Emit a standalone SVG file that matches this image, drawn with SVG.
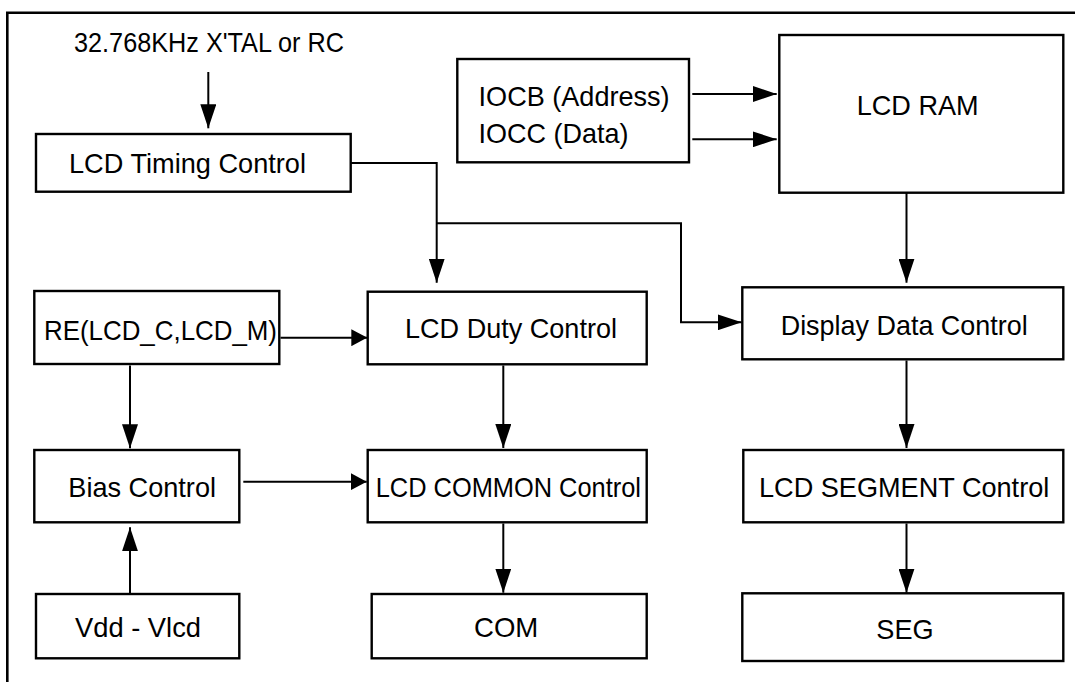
<svg xmlns="http://www.w3.org/2000/svg" width="1075" height="682" viewBox="0 0 1075 682">
<style>
.box{fill:#fff;stroke:#000;stroke-width:2.4}
.t{font-family:"Liberation Sans",Arial,sans-serif;font-size:28px;fill:#000}
.c{fill:none;stroke:#000;stroke-width:2}
.bd{fill:none;stroke:#000;stroke-width:2.6}
</style>
<defs>
<marker id="L" markerUnits="userSpaceOnUse" markerWidth="24" markerHeight="16" viewBox="0 0 24 16" refX="24" refY="8" orient="auto"><path d="M0,0 L24,8 L0,16 Z" fill="#000"/></marker>
<marker id="S" markerUnits="userSpaceOnUse" markerWidth="16" markerHeight="17" viewBox="0 0 16 17" refX="16" refY="8.5" orient="auto"><path d="M0,0 L16,8.5 L0,17 Z" fill="#000"/></marker>
</defs>
<rect width="1075" height="682" fill="#fff"/>
<g id="border">
<polyline class="bd" points="7.3,682 7.3,12.7 1075,12.7"/>
</g>
<g id="source"><text class="t" x="74" y="51.7" textLength="270" lengthAdjust="spacingAndGlyphs">32.768KHz X'TAL or RC</text></g>
<g id="timing"><rect class="box" x="36" y="134" width="314.7" height="57.7"/><text class="t" x="69" y="172.7" textLength="237" lengthAdjust="spacingAndGlyphs">LCD Timing Control</text></g>
<g id="iocb"><rect class="box" x="457.3" y="59" width="231.7" height="103.3"/><text class="t" x="478.6" y="106" textLength="191" lengthAdjust="spacingAndGlyphs">IOCB (Address)</text><text class="t" x="478.6" y="143.3" textLength="150" lengthAdjust="spacingAndGlyphs">IOCC (Data)</text></g>
<g id="lcdram"><rect class="box" x="779.3" y="35" width="284" height="157.7"/><text class="t" x="856.7" y="115" textLength="122" lengthAdjust="spacingAndGlyphs">LCD RAM</text></g>
<g id="re"><rect class="box" x="34.3" y="291" width="245" height="73"/><text class="t" x="44" y="340" textLength="233" lengthAdjust="spacingAndGlyphs">RE(LCD_C,LCD_M)</text></g>
<g id="duty"><rect class="box" x="367.7" y="291.7" width="279" height="72.6"/><text class="t" x="405" y="338.3" textLength="212" lengthAdjust="spacingAndGlyphs">LCD Duty Control</text></g>
<g id="display"><rect class="box" x="742.3" y="287.3" width="321" height="72"/><text class="t" x="780.7" y="335" textLength="247" lengthAdjust="spacingAndGlyphs">Display Data Control</text></g>
<g id="bias"><rect class="box" x="34.3" y="450" width="205" height="72.3"/><text class="t" x="68.3" y="496.7" textLength="147.7" lengthAdjust="spacingAndGlyphs">Bias Control</text></g>
<g id="common"><rect class="box" x="367.7" y="450" width="279" height="72.3"/><text class="t" x="375.7" y="496.7" textLength="265.3" lengthAdjust="spacingAndGlyphs">LCD COMMON Control</text></g>
<g id="segment"><rect class="box" x="743.3" y="450" width="320" height="72.3"/><text class="t" x="759" y="496.7" textLength="290.3" lengthAdjust="spacingAndGlyphs">LCD SEGMENT Control</text></g>
<g id="vdd"><rect class="box" x="36" y="594" width="203.3" height="64.3"/><text class="t" x="75" y="636.7" textLength="126" lengthAdjust="spacingAndGlyphs">Vdd - Vlcd</text></g>
<g id="com"><rect class="box" x="371.7" y="594" width="275" height="64.3"/><text class="t" x="474" y="637.3" textLength="64.3" lengthAdjust="spacingAndGlyphs">COM</text></g>
<g id="seg"><rect class="box" x="742.3" y="593.3" width="321" height="67.7"/><text class="t" x="876.3" y="639.3" textLength="57.3" lengthAdjust="spacingAndGlyphs">SEG</text></g>
<g id="connectors">
<line class="c" x1="208.3" y1="72" x2="208.3" y2="128.3" marker-end="url(#L)"/>
<polyline class="c" points="351,163 436.7,163 436.7,282.7" marker-end="url(#L)"/>
<polyline class="c" points="436.7,223.3 681,223.3 681,322.3 741.7,322.3" marker-end="url(#L)"/>
<line class="c" x1="692.3" y1="94" x2="776.7" y2="94" marker-end="url(#L)"/>
<line class="c" x1="692.3" y1="139.3" x2="776.7" y2="139.3" marker-end="url(#L)"/>
<line class="c" x1="906.5" y1="193" x2="906.5" y2="282.7" marker-end="url(#L)"/>
<line class="c" x1="280.5" y1="337.7" x2="367.3" y2="337.7" marker-end="url(#S)"/>
<line class="c" x1="130" y1="365.5" x2="130" y2="448.3" marker-end="url(#L)"/>
<line class="c" x1="503.3" y1="365.5" x2="503.3" y2="448" marker-end="url(#L)"/>
<line class="c" x1="906.5" y1="360.5" x2="906.5" y2="448" marker-end="url(#L)"/>
<line class="c" x1="243.3" y1="481.7" x2="366.7" y2="481.7" marker-end="url(#S)"/>
<line class="c" x1="130" y1="594" x2="130" y2="527.3" marker-end="url(#L)"/>
<line class="c" x1="503.3" y1="523.5" x2="503.3" y2="592.7" marker-end="url(#L)"/>
<line class="c" x1="906.5" y1="523.5" x2="906.5" y2="592.7" marker-end="url(#L)"/>
</g>
</svg>
